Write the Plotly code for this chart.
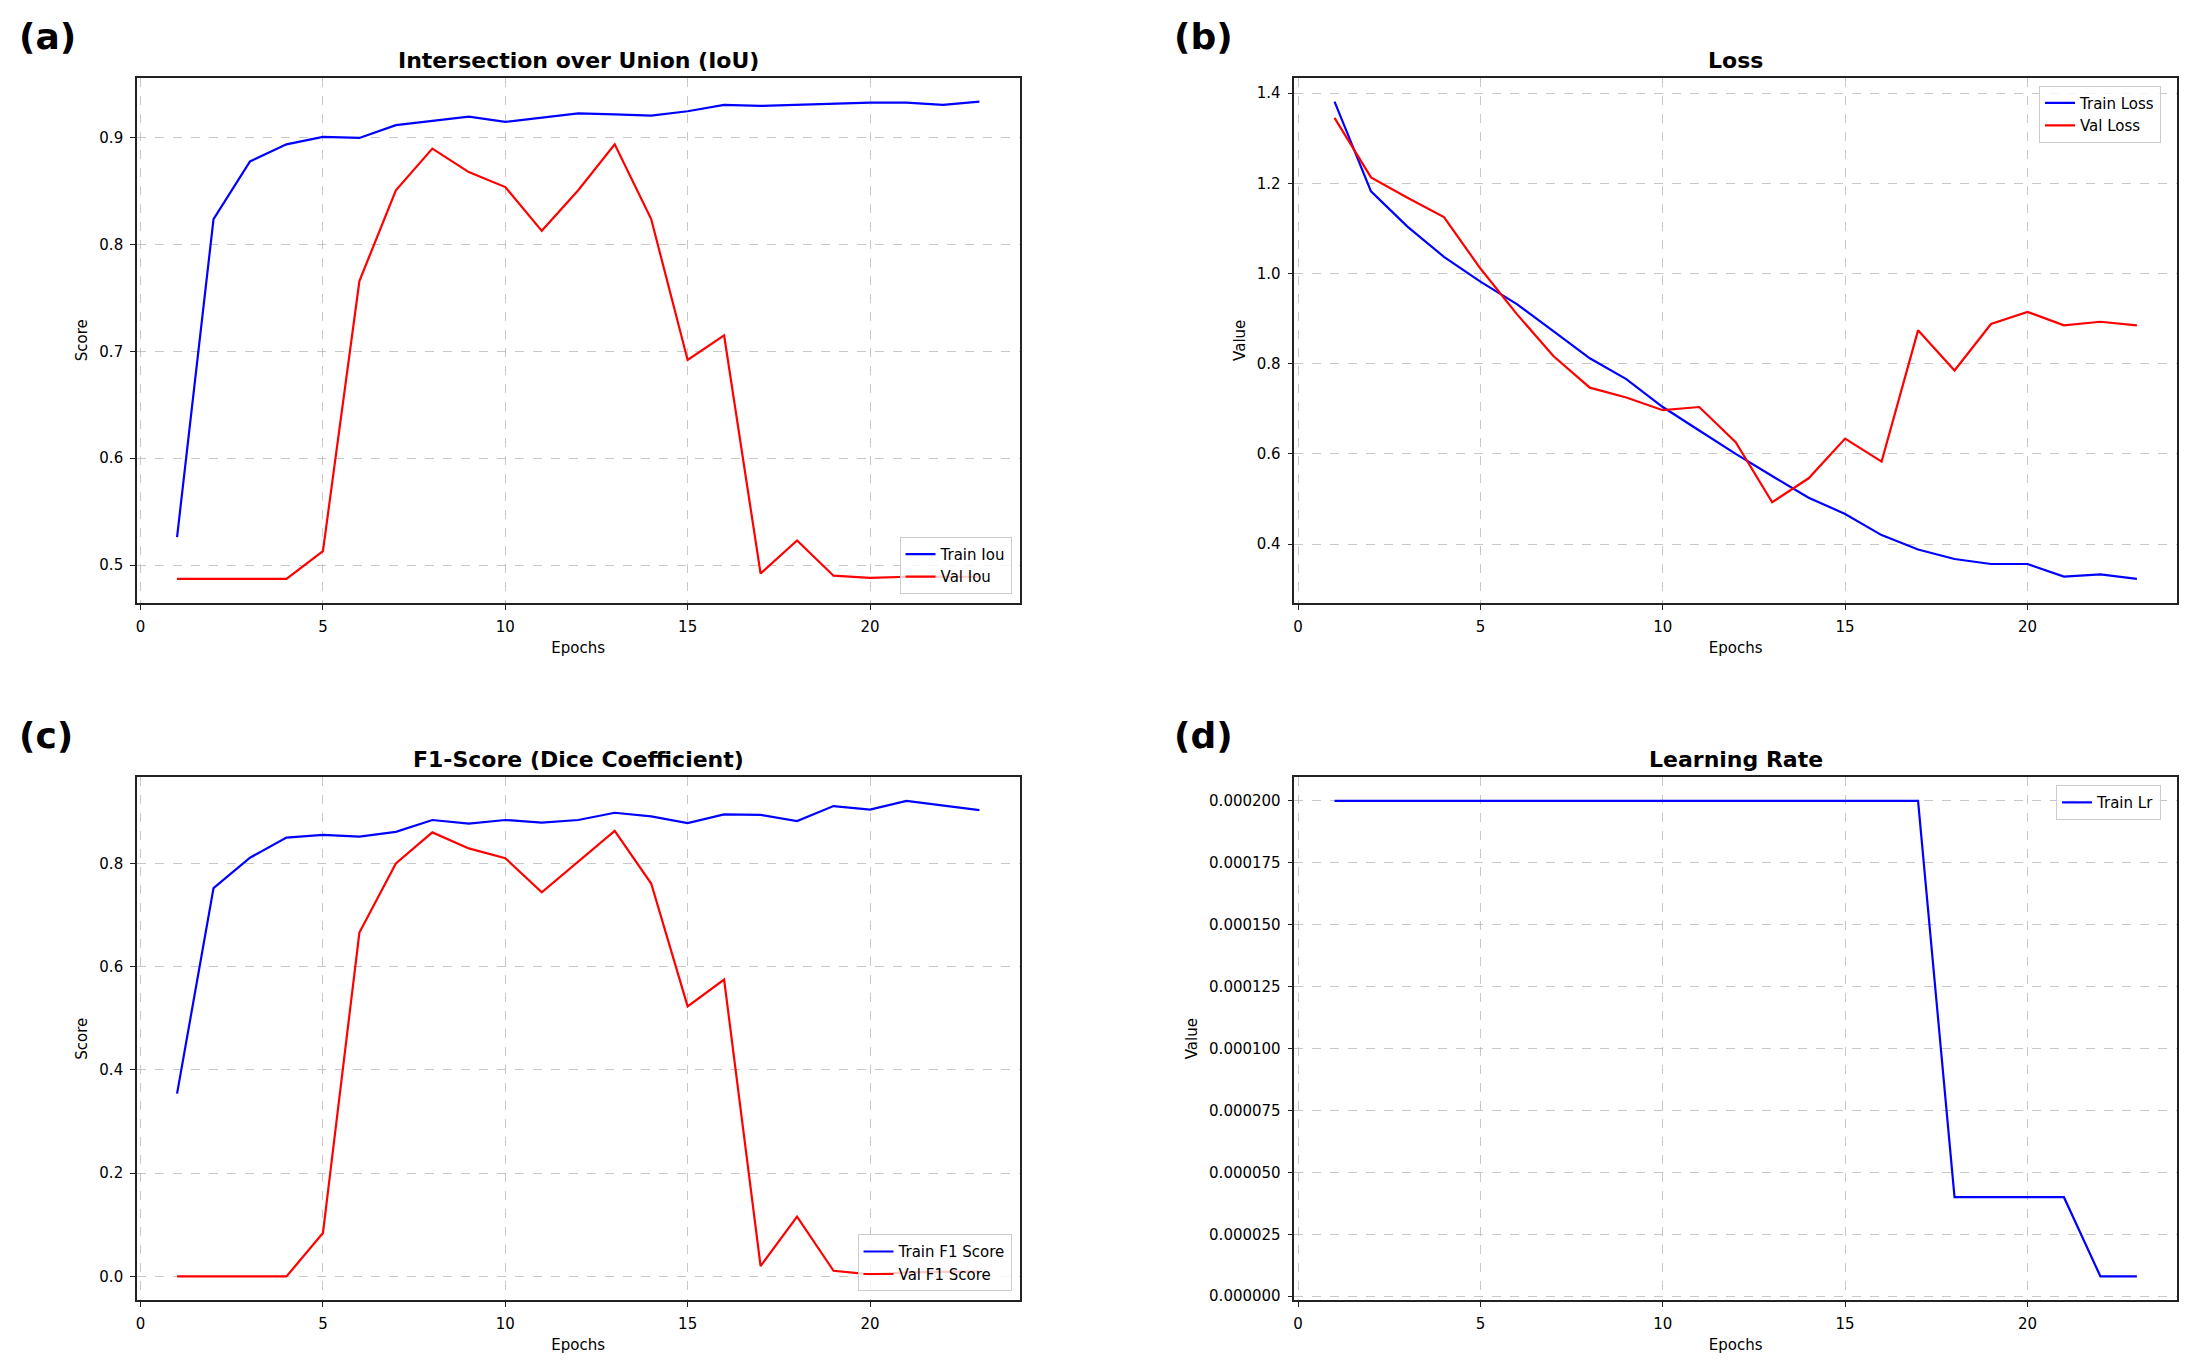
import plotly.graph_objects as go

# training history (23 epochs)
epochs = list(range(1, 24))

train_iou = [0.526, 0.824, 0.878, 0.894, 0.901, 0.900, 0.912, 0.916, 0.920, 0.915, 0.919, 0.923,
             0.922, 0.921, 0.925, 0.931, 0.930, 0.931, 0.932, 0.933, 0.933, 0.931, 0.934]
val_iou = [0.487, 0.487, 0.487, 0.487, 0.513, 0.766, 0.851, 0.890, 0.868, 0.854, 0.813, 0.851,
           0.894, 0.824, 0.692, 0.715, 0.492, 0.523, 0.490, 0.488, 0.489, 0.489, 0.489]

train_loss = [1.381, 1.182, 1.104, 1.037, 0.982, 0.932, 0.872, 0.812, 0.766, 0.704, 0.652, 0.600,
              0.551, 0.503, 0.467, 0.420, 0.388, 0.367, 0.356, 0.356, 0.328, 0.333, 0.323]
val_loss = [1.345, 1.213, 1.168, 1.125, 1.011, 0.910, 0.817, 0.747, 0.725, 0.697, 0.704, 0.626,
            0.493, 0.546, 0.634, 0.583, 0.874, 0.785, 0.888, 0.915, 0.885, 0.893, 0.885]

train_f1 = [0.354, 0.752, 0.811, 0.850, 0.855, 0.852, 0.861, 0.884, 0.877, 0.884, 0.879, 0.884,
            0.898, 0.891, 0.878, 0.895, 0.894, 0.882, 0.911, 0.904, 0.921, 0.912, 0.903]
val_f1 = [0.0, 0.0, 0.0, 0.0, 0.084, 0.666, 0.800, 0.860, 0.829, 0.810, 0.744, 0.804,
          0.863, 0.761, 0.523, 0.575, 0.020, 0.116, 0.011, 0.004, 0.008, 0.009, 0.010]

train_lr = [0.0002] * 17 + [0.00004] * 4 + [0.000008] * 2

# page is 2193x1367 but the html body adds an 8px margin, so the figure is shrunk to fit
W, H = 2193, 1367
OFF = 8
FW, FH = W - 2 * OFF, H - 2 * OFF
FONT = 'DejaVu Sans'


def px_x(p):
    return (p - OFF) / FW


def px_y(p):
    return 1 - (p - OFF) / FH


# plot areas in screen pixels (left, right, top, bottom)
boxes = {
    'a': (136, 1019, 78, 605),
    'b': (1294, 2177, 78, 605),
    'c': (136, 1019, 780, 1305),
    'd': (1294, 2177, 780, 1305),
}

panels = [
    # key, title, y label, series, y range, dtick, tickformat, legend placement
    ('a', 'Intersection over Union (IoU)', 'Score',
     [('Train Iou', train_iou, 'blue'), ('Val Iou', val_iou, 'red')],
     [0.4646, 0.9564], 0.1, '.1f', 'br'),
    ('b', 'Loss', 'Value',
     [('Train Loss', train_loss, 'blue'), ('Val Loss', val_loss, 'red')],
     [0.270, 1.434], 0.2, '.1f', 'tr'),
    ('c', 'F1-Score (Dice Coefficient)', 'Score',
     [('Train F1 Score', train_f1, 'blue'), ('Val F1 Score', val_f1, 'red')],
     [-0.046, 0.967], 0.2, '.1f', 'br'),
    ('d', 'Learning Rate', 'Value',
     [('Train Lr', train_lr, 'blue')],
     [-0.0000016, 0.0002096], 0.000025, '.6f', 'tr'),
]

fig = go.Figure()
layout = dict(width=FW, height=FH, margin=dict(l=0, r=0, t=0, b=0),
              paper_bgcolor='white', plot_bgcolor='white',
              font=dict(family=FONT, size=15, color='black'),
              annotations=[])

grid_col = 'rgba(176,176,176,0.7)'

for i, (key, title, ylab, series, yrange, dtick, fmt, loc) in enumerate(panels):
    n = '' if i == 0 else str(i + 1)
    l, r, t, b = boxes[key]
    xd = [px_x(l), px_x(r)]
    yd = [px_y(b), px_y(t)]

    leg = 'legend' + n
    for name, vals, col in series:
        fig.add_trace(go.Scatter(x=epochs, y=vals, name=name, mode='lines',
                                 line=dict(color=col, width=2.2),
                                 xaxis='x' + n, yaxis='y' + n, legend=leg))

    axis_common = dict(showline=True, mirror=True, linecolor='#222222', linewidth=1.5,
                       ticks='outside', ticklen=5, tickwidth=1, tickcolor='#222222',
                       showgrid=True, gridcolor=grid_col, griddash='dash', gridwidth=1,
                       zeroline=False, tickfont=dict(size=15), ticklabelstandoff=4)
    layout['xaxis' + n] = dict(domain=xd, anchor='y' + n, range=[-0.1, 24.1], dtick=5,
                               tick0=0, title=dict(text='Epochs', standoff=8,
                                                   font=dict(size=15)),
                               **axis_common)
    layout['yaxis' + n] = dict(domain=yd, anchor='x' + n, range=yrange, dtick=dtick,
                               tick0=0, tickformat=fmt,
                               title=dict(text=ylab, standoff=8, font=dict(size=15)),
                               **axis_common)

    # legend box in matplotlib style
    if loc == 'br':
        lx, ly, ya = px_x(r - 8), px_y(b - 9), 'bottom'
    else:
        lx, ly, ya = px_x(r - 16), px_y(t + 8), 'top'
    layout[leg] = dict(x=lx, y=ly, xanchor='right', yanchor=ya,
                       bgcolor='rgba(255,255,255,0.8)', bordercolor='#cccccc',
                       borderwidth=1, font=dict(size=15), itemwidth=30,
                       tracegroupgap=0)

    # subplot title
    layout['annotations'].append(dict(
        text='<b>' + title + '</b>', x=px_x((l + r) / 2), y=px_y(t - 3),
        xref='paper', yref='paper', xanchor='center', yanchor='bottom',
        showarrow=False, font=dict(size=22)))

    # panel letter
    lx0 = 16 if key in 'ac' else 1172
    ly0 = 37 if key in 'ab' else 738
    layout['annotations'].append(dict(
        text='<b>(' + key + ')</b>', x=px_x(lx0), y=px_y(ly0),
        xref='paper', yref='paper', xanchor='left', yanchor='middle',
        showarrow=False, font=dict(size=36)))

fig.update_layout(**layout)

fig.write_html("out.html")
